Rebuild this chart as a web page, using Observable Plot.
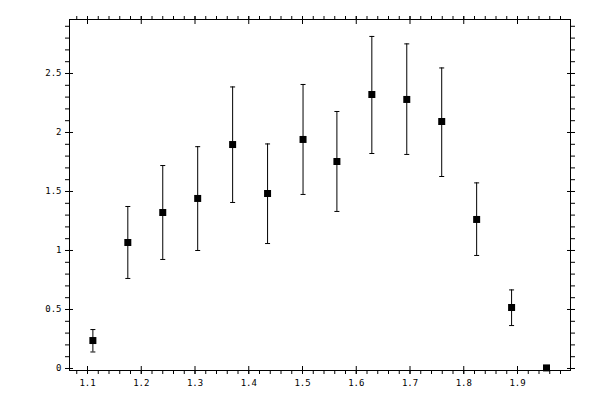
<!DOCTYPE html>
<html><head><meta charset="utf-8">
<script src="https://cdn.jsdelivr.net/npm/d3@7"></script>
<script src="https://cdn.jsdelivr.net/npm/@observablehq/plot@0.6"></script>
<style>body{margin:0;background:#fff}</style>
</head><body><div id="chart"></div>
<script>
const xValues = [1.110, 1.175, 1.240, 1.305, 1.370, 1.435, 1.501, 1.564, 1.629, 1.694, 1.759, 1.824, 1.889, 1.954];
const yValues = [0.237, 1.068, 1.322, 1.441, 1.898, 1.483, 1.941, 1.754, 2.322, 2.280, 2.093, 1.263, 0.517, 0.005];
const yLow    = [0.140, 0.763, 0.924, 1.000, 1.407, 1.059, 1.475, 1.331, 1.822, 1.814, 1.627, 0.958, 0.364, null];
const yHigh   = [0.330, 1.373, 1.720, 1.880, 2.386, 1.903, 2.407, 2.178, 2.814, 2.751, 2.547, 1.573, 0.666, null];
const xTicks = [1.1, 1.2, 1.3, 1.4, 1.5, 1.6, 1.7, 1.8, 1.9];
const yTicks = [0, 0.5, 1, 1.5, 2, 2.5];
const xMinor = d3.range(54, 100).map(i => Math.round(i * 2) / 100);
const yMinor = d3.range(1, 30).map(i => i / 10);

const data = xValues.map((x, i) => ({x, y: yValues[i], lo: yLow[i], hi: yHigh[i]}));
const bars = data.filter(d => d.lo != null);

const capSymbol = {
  draw(context, size) {
    const w = Math.sqrt(size / Math.PI);
    context.moveTo(-w, 0);
    context.lineTo(w, 0);
  }
};

const fmt = d => `${d}`;
const tickOpts = {text: null, stroke: "black", label: null};

const chart = Plot.plot({
  width: 600,
  height: 400,
  marginLeft: 69,
  marginRight: 30,
  marginTop: 19,
  marginBottom: 30,
  style: {fontFamily: "'DejaVu Sans Mono', monospace", fontSize: "9px", color: "black", background: "white"},
  x: {domain: [1.0665, 1.9986], label: null},
  y: {domain: [-0.01695, 2.9576], label: null},
  marks: [
    Plot.frame({stroke: "black"}),
    // minor ticks (outward)
    Plot.axisX(xMinor, {anchor: "bottom", tickSize: 4, ...tickOpts}),
    Plot.axisX(xMinor, {anchor: "top", tickSize: 4, ...tickOpts}),
    Plot.axisY(yMinor, {anchor: "left", tickSize: 4, ...tickOpts}),
    Plot.axisY(yMinor, {anchor: "right", tickSize: 4, ...tickOpts}),
    // major ticks crossing the frame
    Plot.axisX(xTicks, {anchor: "bottom", tickSize: 8, dy: -4, ...tickOpts}),
    Plot.axisX(xTicks, {anchor: "top", tickSize: 8, dy: 4, ...tickOpts}),
    Plot.axisY(yTicks, {anchor: "left", tickSize: 8, dx: 4, ...tickOpts}),
    Plot.axisY(yTicks, {anchor: "right", tickSize: 8, dx: -4, ...tickOpts}),
    // labels
    Plot.axisX(xTicks, {anchor: "bottom", tickSize: 0, tickPadding: 9, tickFormat: fmt, fill: "black", label: null}),
    Plot.axisY(yTicks, {anchor: "left", tickSize: 0, tickPadding: 8, tickFormat: fmt, fill: "black", label: null}),
    // error bars
    Plot.ruleX(bars, {x: "x", y1: "lo", y2: "hi", stroke: "black", strokeWidth: 1}),
    Plot.dot(bars, {x: "x", y: "lo", symbol: capSymbol, r: 2.5, stroke: "black", fill: "none", strokeWidth: 1}),
    Plot.dot(bars, {x: "x", y: "hi", symbol: capSymbol, r: 2.5, stroke: "black", fill: "none", strokeWidth: 1}),
    // points
    Plot.dot(data, {x: "x", y: "y", symbol: "square", r: 3.95, fill: "black", stroke: "none"})
  ]
});
document.getElementById("chart").appendChild(chart);
</script>
</body></html>
